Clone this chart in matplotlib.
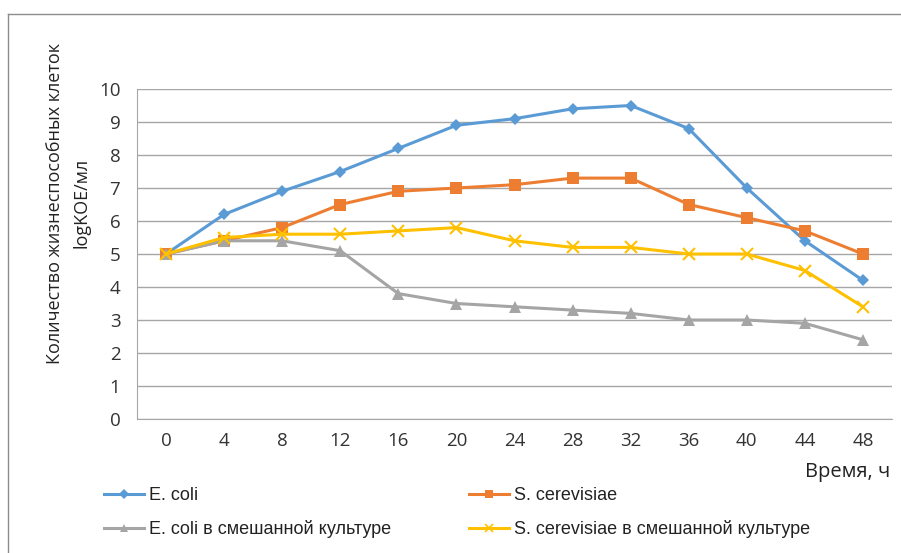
import matplotlib.pyplot as plt
from matplotlib.lines import Line2D
from matplotlib import font_manager

# Время, ч
stunden = [0, 4, 8, 12, 16, 20, 24, 28, 32, 36, 40, 44, 48]

e_coli = [5.0, 6.2, 6.9, 7.5, 8.2, 8.9, 9.1, 9.4, 9.5, 8.8, 7.0, 5.4, 4.2]
s_cerevisiae = [5.0, 5.4, 5.8, 6.5, 6.9, 7.0, 7.1, 7.3, 7.3, 6.5, 6.1, 5.7, 5.0]
e_coli_mix = [5.0, 5.4, 5.4, 5.1, 3.8, 3.5, 3.4, 3.3, 3.2, 3.0, 3.0, 2.9, 2.4]
s_cerevisiae_mix = [5.0, 5.5, 5.6, 5.6, 5.7, 5.8, 5.4, 5.2, 5.2, 5.0, 5.0, 4.5, 3.4]

namen = ['E. coli', 'S. cerevisiae',
         'E. coli в смешанной культуре', 'S. cerevisiae в смешанной культуре']

plt.rcParams['font.family'] = ['Open Sans', 'DejaVu Sans']
verfuegbar = {f.name for f in font_manager.fontManager.ttflist}
legend_font = 'Liberation Sans Narrow' if 'Liberation Sans Narrow' in verfuegbar else 'Liberation Sans'

fig = plt.figure(figsize=(9.01, 5.53), dpi=100)
ax = fig.add_axes([137 / 901, 1 - 419 / 553, (892 - 137) / 901, (419 - 89) / 553])

x = list(range(len(stunden)))
reihen = [
    (e_coli, '#5B9BD5', 'D', 6),
    (s_cerevisiae, '#ED7D31', 's', 8),
    (e_coli_mix, '#A5A5A5', '^', 8),
    (s_cerevisiae_mix, '#FFC000', 'x', 8),
]

handles = []
for (werte, farbe, marker, ms), name in zip(reihen, namen):
    ax.plot(x, werte, color=farbe, lw=2.2, marker=marker, ms=ms,
            mew=1.5 if marker == 'x' else 0, mec=farbe, mfc=farbe, label=name)
    handles.append(Line2D([0], [0], color=farbe, lw=2.2, marker=marker,
                          ms=ms * 0.8, mew=1.2 if marker == 'x' else 0, mfc=farbe, mec=farbe))

ax.set_xlim(-0.5, len(stunden) - 0.5)
ax.set_ylim(0, 10)
ax.set_yticks(range(0, 11))
ax.set_xticks(x)
ax.set_xticklabels([str(s) for s in stunden])
ax.tick_params(length=0, labelsize=13.5, colors='#333333', pad=9)
ax.tick_params(axis='y', pad=12)
ax.grid(axis='y', color='#A6A6A6', lw=1)
ax.set_axisbelow(True)
for seite in ['top', 'right']:
    ax.spines[seite].set_visible(False)
for seite in ['left', 'bottom']:
    ax.spines[seite].set_color('#A6A6A6')

fig.text(890 / 901, 1 - 472 / 553, 'Время, ч', ha='right', va='center', fontsize=14.5, color='#222222')
fig.text(68 / 901, 1 - 203 / 553, 'Количество жизнеспособных клеток\nlogKOE/мл',
         rotation=90, ha='center', va='center', fontsize=13, color='#222222',
         linespacing=1.6)

# Legende zeilenweise: E. coli | S. cerevisiae, dann die Mischkulturen
reihenfolge = [0, 2, 1, 3]
leg = fig.legend([handles[i] for i in reihenfolge], [namen[i] for i in reihenfolge],
                 loc='upper left', bbox_to_anchor=(88 / 901, 1 - 471 / 553),
                 ncol=2, frameon=False, columnspacing=4.3,
                 handlelength=2.2, handletextpad=0.3, labelspacing=0.9,
                 prop={'family': legend_font, 'size': 13})
for t in leg.get_texts():
    t.set_color('#222222')

# Rahmen um das Diagramm
fig.add_artist(Line2D([8 / 901, 1], [1 - 14 / 553] * 2, color='#8C8C8C', lw=1))
fig.add_artist(Line2D([8 / 901] * 2, [1 - 14 / 553, 0], color='#8C8C8C', lw=1))

fig.savefig('out.png', dpi=100)
